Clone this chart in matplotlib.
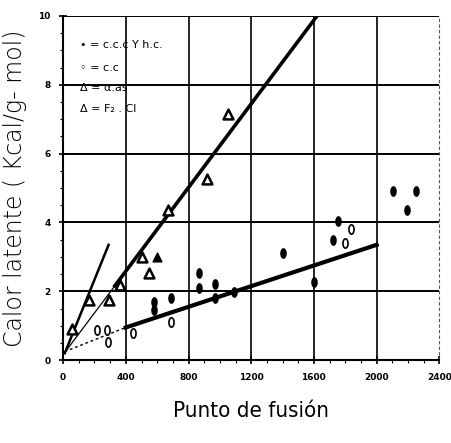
import numpy as np
import matplotlib
matplotlib.use("Agg")
import matplotlib.pyplot as plt
from matplotlib.ticker import MultipleLocator

# --- data ---
# triangles (open)
tri_x = [55, 162, 290, 365, 503, 546, 666, 915, 1050]
tri_y = [0.9, 1.75, 1.75, 2.18, 3.0, 2.52, 4.37, 5.25, 7.15]
# filled triangle
tri2_x = [600]
tri2_y = [3.0]
# filled ovals (c.c.c y h.c.)
dot_x = [578, 578, 690, 866, 870, 968, 968, 1090, 1405, 1601, 1719, 1755, 2103, 2252, 2195]
dot_y = [1.7, 1.45, 1.82, 2.52, 2.09, 2.22, 1.8, 1.99, 3.1, 2.28, 3.49, 4.03, 4.9, 4.9, 4.37]
# open ovals (c.c)
ring_x = [216, 280, 286, 446, 691, 1800, 1836]
ring_y = [0.89, 0.89, 0.53, 0.78, 1.12, 3.4, 3.8]

# fitted lines
line1_x = [10, 290]
line1_y = [0.2, 3.35]
line2a_x = [15, 330]
line2a_y = [0.25, 2.16]
line2b_x = [330, 1620]
line2b_y = [2.16, 10.0]
line3a_x = [10, 400]
line3a_y = [0.25, 0.95]
line3b_x = [400, 2000]
line3b_y = [0.95, 3.35]

legend_lines = ["\u2022 = c.c.c Y h.c.", "\u25e6 = c.c", "\u0394 = \u03b1.as", "\u0394 = F\u2082 . Cl"]
legend_y = [9.15, 8.5, 7.9, 7.3]

fig = plt.figure(figsize=(4.51, 4.43), dpi=100)
ax = fig.add_axes([0.14, 0.187, 0.834, 0.777])

ax.set_xlim(0, 2400)
ax.set_ylim(0, 10)

# grid
for yy in [2, 4, 6, 8, 10]:
    ax.axhline(yy, color="black", lw=1.4, zorder=1)
for xx in [400, 800, 1200, 1600, 2000]:
    ax.axvline(xx, color="black", lw=1.2, zorder=1)

# lines
ax.plot(line1_x, line1_y, color="black", lw=1.8, zorder=2)
ax.plot(line2a_x, line2a_y, color="black", lw=0.9, zorder=2)
ax.plot(line2b_x, line2b_y, color="black", lw=2.6, zorder=2)
ax.plot(line3a_x, line3a_y, color="black", lw=1.0, ls=(0, (2, 2)), zorder=2)
ax.plot(line3b_x, line3b_y, color="black", lw=3.0, zorder=2)

# oval marker
t = np.linspace(0, 2 * np.pi, 30)
oval = np.column_stack([0.55 * np.cos(t), np.sin(t)])

ax.scatter(dot_x, dot_y, marker=oval, s=45, color="black", zorder=3)
ax.scatter(ring_x, ring_y, marker=oval, s=45, facecolor="white", edgecolor="black", lw=1.2, zorder=3)
ax.scatter(tri_x, tri_y, marker="^", s=50, facecolor="white", edgecolor="black", lw=1.8, zorder=3)
ax.scatter(tri2_x, tri2_y, marker="^", s=40, color="black", zorder=3)

# legend as text
for s, yy in zip(legend_lines, legend_y):
    ax.text(110, yy, s, fontsize=8, va="center", ha="left", family="DejaVu Sans")

# spines
for side in ["left", "bottom"]:
    ax.spines[side].set_linewidth(1.5)
ax.spines["top"].set_visible(False)
ax.spines["right"].set_linestyle((0, (2, 3)))
ax.spines["right"].set_linewidth(0.8)
ax.spines["right"].set_color("#555555")

ax.xaxis.set_major_locator(MultipleLocator(400))
ax.xaxis.set_minor_locator(MultipleLocator(100))
ax.yaxis.set_major_locator(MultipleLocator(2))
ax.yaxis.set_minor_locator(MultipleLocator(0.5))
ax.tick_params(axis="both", which="major", direction="inout", length=6, width=1.2,
               labelsize=6.5, pad=6)
ax.tick_params(axis="both", which="minor", direction="out", length=2.5, width=0.8)
for lab in ax.get_xticklabels() + ax.get_yticklabels():
    lab.set_fontweight("bold")

ax.set_xlabel("Punto de fusión", fontsize=16, fontstretch="condensed", labelpad=14)
ax.set_ylabel("Calor latente ( Kcal/g- mol)", fontsize=17, fontweight="light", labelpad=8)

fig.savefig("out.png", dpi=100)
